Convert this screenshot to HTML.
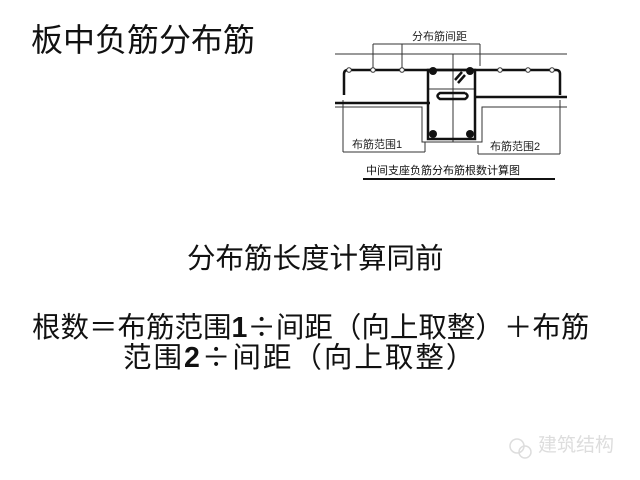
<!DOCTYPE html>
<html><head><meta charset="utf-8"><style>
body{margin:0;width:640px;height:480px;background:#fff;position:relative;overflow:hidden;font-family:"Liberation Sans","Noto Sans CJK SC",sans-serif;color:#111}
.t{position:absolute;white-space:nowrap;line-height:1}
.d{font-family:"Noto Sans CJK SC",sans-serif}
</style></head><body>
<div class="t" style="left:31px;top:24px;font-size:32px">板中负筋分布筋</div>
<div class="t" style="left:187px;top:245px;font-size:28.5px">分布筋长度计算同前</div>
<div class="t" style="left:32px;top:312px;font-size:28.5px">根数＝布筋范围<b>1</b><span class="d">÷</span>间距（向上取整）＋布筋</div>
<div class="t" style="left:123px;top:342px;font-size:28.5px;letter-spacing:2px">范围<b>2</b><span class="d">÷</span>间距（向上取整）</div>
<div class="t" style="left:538px;top:436px;font-size:19px;color:#ddd">建筑结构</div>
<svg width="640" height="480" style="position:absolute;left:0;top:0" font-family="Liberation Sans,Noto Sans CJK SC,sans-serif">
<g stroke="#333" stroke-width="1" fill="none">
<line x1="335" y1="54" x2="567" y2="54"/>
<polyline points="335,107 422,107 422,142 482,142 482,107 567,107"/>
<line x1="453" y1="54" x2="453" y2="142"/>
<line x1="373" y1="44" x2="480" y2="44"/>
<line x1="373" y1="44" x2="373" y2="70"/><line x1="402" y1="44" x2="402" y2="70"/>
<line x1="480" y1="44" x2="480" y2="66"/>
<line x1="343" y1="100" x2="343" y2="152"/><line x1="343" y1="152" x2="425" y2="152"/><line x1="425" y1="142" x2="425" y2="152"/>
<line x1="478" y1="145" x2="478" y2="154"/><line x1="478" y1="154" x2="560" y2="154"/><line x1="560" y1="100" x2="560" y2="154"/>
<line x1="428" y1="89" x2="475" y2="89"/>
</g>
<g stroke="#111" stroke-width="2.5" fill="none">
<path d="M344,95 L344,74 Q344,70 348,70 L556,70 Q560,70 560,74 L560,95"/>
<line x1="335" y1="103" x2="430" y2="103"/>
<line x1="475" y1="97" x2="567" y2="97"/>
<rect x="428" y="70" width="47" height="69"/>
<path d="M465,93 L440,93 Q435,96 440,99 L465,99 Q470,96 465,93"/>
<path d="M455,80 L462,72 M458,83 L465,75"/>
</g>
<g fill="#111"><circle cx="433" cy="71" r="4"/><circle cx="470" cy="71" r="4"/><circle cx="433" cy="134" r="4"/><circle cx="470" cy="134" r="4"/></g>
<g fill="#fff" stroke="#333"><circle cx="349" cy="70" r="2.3"/><circle cx="373" cy="70" r="2.3"/><circle cx="402" cy="70" r="2.3"/><circle cx="500" cy="70" r="2.3"/><circle cx="528" cy="70" r="2.3"/><circle cx="552" cy="70" r="2.3"/></g>
<text x="412" y="40" font-size="11" fill="#222">分布筋间距</text>
<text x="352" y="148" font-size="11" fill="#222">布筋范围1</text>
<text x="490" y="150" font-size="11" fill="#222">布筋范围2</text>
<text x="366" y="174" font-size="11" fill="#111">中间支座负筋分布筋根数计算图</text>
<line x1="363" y1="179" x2="555" y2="179" stroke="#111" stroke-width="2"/>
<g stroke="#ddd" fill="none" stroke-width="1.5"><circle cx="517" cy="446" r="7"/><circle cx="525" cy="452" r="6"/></g>
</svg>
</body></html>
